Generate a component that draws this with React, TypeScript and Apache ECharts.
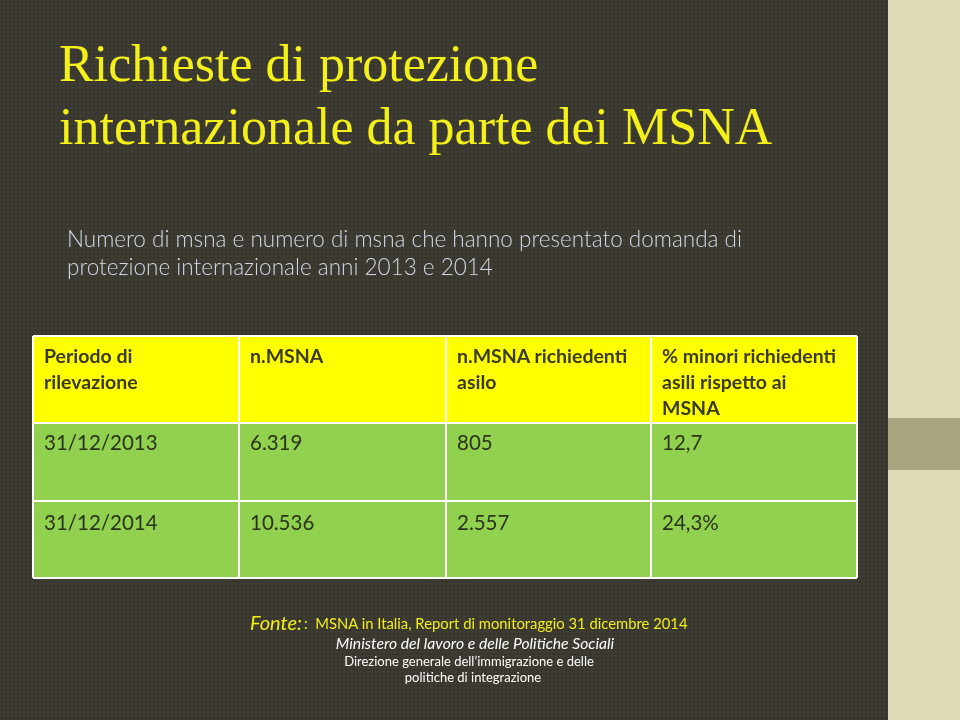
import React, { useEffect, useRef } from "react";
import * as echarts from "echarts";

const titleLines = ["Richieste di protezione", "internazionale da parte dei MSNA"];
const subtitleLines = [
  "Numero di msna e numero di msna che hanno presentato domanda di",
  "protezione internazionale anni 2013 e 2014",
];
const headers = [
  ["Periodo di", "rilevazione"],
  ["n.MSNA"],
  ["n.MSNA richiedenti", "asilo"],
  ["% minori richiedenti", "asili rispetto ai", "MSNA"],
];
const periods = ["31/12/2013", "31/12/2014"];
const nMsna = ["6.319", "10.536"];
const nAsilo = ["805", "2.557"];
const pctAsilo = ["12,7", "24,3%"];

const colX = [33, 239, 446, 651, 857];
const rowY = [336, 423, 501, 578];

export default function App() {
  const ref = useRef<HTMLDivElement>(null);
  useEffect(() => {
    const chart = echarts.init(ref.current!, null, { renderer: "svg" });
    const g: any[] = [];
    g.push({ type: "rect", shape: { x: 0, y: 0, width: 888, height: 720 }, style: { fill: "#3a382f" }, silent: true });
    for (let y = 0; y < 720; y += 4) {
      g.push({ type: "line", shape: { x1: 0, y1: y, x2: 888, y2: y }, style: { stroke: "#45433a", lineWidth: 1 }, silent: true });
    }
    for (let x = 2; x < 888; x += 4) {
      g.push({ type: "line", shape: { x1: x, y1: 0, x2: x, y2: 720 }, style: { stroke: "#34322b", lineWidth: 1, opacity: 0.6 }, silent: true });
    }
    g.push({ type: "rect", shape: { x: 888, y: 0, width: 72, height: 720 }, style: { fill: "#dedbb7" } });
    g.push({ type: "rect", shape: { x: 888, y: 418, width: 72, height: 52 }, style: { fill: "#a8a67f" } });

    titleLines.forEach((t, i) => {
      g.push({ type: "text", x: 59, y: 63 + i * 63, style: { text: t, font: "52px 'Liberation Serif'", fill: "#f4f01a", verticalAlign: "middle" } });
    });
    subtitleLines.forEach((t, i) => {
      g.push({ type: "text", x: 67, y: 238 + i * 28, style: { text: t, font: "300 22.5px Lato", fill: "#d2d8e6", verticalAlign: "middle" } });
    });

    // table cells
    g.push({ type: "rect", shape: { x: colX[0], y: rowY[0], width: colX[4] - colX[0], height: rowY[1] - rowY[0] }, style: { fill: "#ffff00" } });
    g.push({ type: "rect", shape: { x: colX[0], y: rowY[1], width: colX[4] - colX[0], height: rowY[3] - rowY[1] }, style: { fill: "#92d050" } });
    rowY.forEach((y) => g.push({ type: "line", shape: { x1: colX[0], y1: y, x2: colX[4], y2: y }, style: { stroke: "#ffffff", lineWidth: 2 } }));
    colX.forEach((x) => g.push({ type: "line", shape: { x1: x, y1: rowY[0], x2: x, y2: rowY[3] }, style: { stroke: "#ffffff", lineWidth: 2 } }));

    headers.forEach((lines, c) => {
      lines.forEach((t, j) => {
        g.push({ type: "text", x: colX[c] + 11, y: 355 + j * 26, style: { text: t, font: "bold 19.5px Lato", fill: "#3b3a1c", verticalAlign: "middle" } });
      });
    });
    const rows = periods.map((p, i) => [p, nMsna[i], nAsilo[i], pctAsilo[i]]);
    rows.forEach((r, i) => {
      r.forEach((t, c) => {
        g.push({ type: "text", x: colX[c] + 11, y: 442 + i * 80, style: { text: t, font: "20.5px Lato", fill: "#2a3418", verticalAlign: "middle" } });
      });
    });

    // footer
    g.push({ type: "text", x: 250, y: 622, style: { text: "Fonte:", font: "italic 20px Lato", fill: "#f2ee1a", verticalAlign: "middle" } });
    g.push({ type: "text", x: 304, y: 623, style: { text: ":  MSNA in Italia, Report di monitoraggio 31 dicembre 2014", font: "14.8px Lato", fill: "#f2ee1a", verticalAlign: "middle" } });
    g.push({ type: "text", x: 475, y: 643, style: { text: "Ministero del lavoro e delle Politiche Sociali", font: "italic 15.7px Lato", fill: "#ffffff", align: "center", verticalAlign: "middle" } });
    g.push({ type: "text", x: 469, y: 661, style: { text: "Direzione generale dell\u2019immigrazione e delle", font: "13px Lato", fill: "#ffffff", align: "center", verticalAlign: "middle" } });
    g.push({ type: "text", x: 473, y: 677, style: { text: "politiche di integrazione", font: "13px Lato", fill: "#ffffff", align: "center", verticalAlign: "middle" } });

    chart.setOption({ animation: false, graphic: { elements: g } });
    return () => chart.dispose();
  }, []);
  return <div ref={ref} style={{ position: "fixed", left: 0, top: 0, width: 960, height: 720 }} />;
}
